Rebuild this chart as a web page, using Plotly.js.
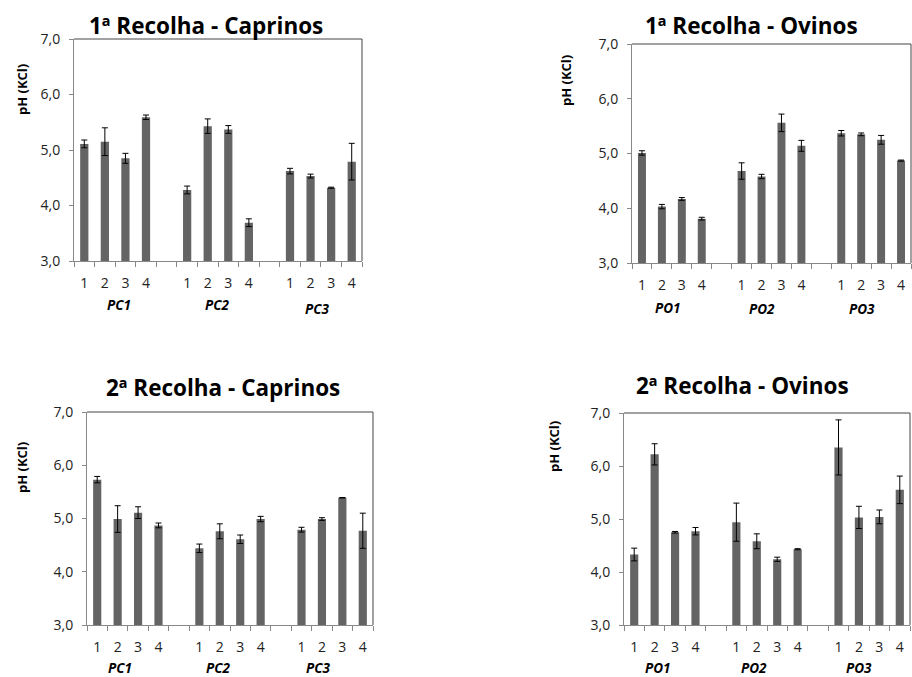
<!DOCTYPE html>
<html>
<head>
<meta charset="utf-8">
<script src="https://cdn.plot.ly/plotly-3.0.1.min.js"></script>
<style>html,body{margin:0;padding:0;background:#fff;}#chart{width:912px;height:677px;}</style>
</head>
<body>
<div id="chart"></div>
<script>
// ---- data ----
const samples = ['1', '2', '3', '4'];
const groupsCaprinos = ['PC1', 'PC2', 'PC3'];
const groupsOvinos = ['PO1', 'PO2', 'PO3'];

const titles = ['1ª Recolha - Caprinos', '1ª Recolha - Ovinos', '2ª Recolha - Caprinos', '2ª Recolha - Ovinos'];
const yTitle = 'pH (KCl)';
const yTicks = [3, 4, 5, 6, 7];

const r1Caprinos    = [5.11, 5.15, 4.85, 5.59, 4.28, 5.43, 5.37, 3.69, 4.62, 4.53, 4.32, 4.79];
const r1CaprinosErr = [0.07, 0.25, 0.09, 0.04, 0.07, 0.13, 0.07, 0.07, 0.05, 0.035, 0.01, 0.33];

const r1Ovinos    = [5.01, 4.03, 4.17, 3.81, 4.68, 4.58, 5.56, 5.14, 5.37, 5.35, 5.25, 4.87];
const r1OvinosErr = [0.04, 0.04, 0.025, 0.025, 0.15, 0.04, 0.16, 0.10, 0.05, 0.025, 0.08, 0.01];

const r2Caprinos    = [5.73, 4.99, 5.11, 4.87, 4.44, 4.76, 4.61, 4.99, 4.79, 4.99, 5.39, 4.77];
const r2CaprinosErr = [0.06, 0.25, 0.11, 0.045, 0.08, 0.14, 0.08, 0.05, 0.045, 0.025, 0.005, 0.33];

const r2Ovinos    = [4.33, 6.22, 4.75, 4.77, 4.94, 4.58, 4.24, 4.43, 6.35, 5.03, 5.04, 5.55];
const r2OvinosErr = [0.12, 0.20, 0.015, 0.07, 0.36, 0.14, 0.04, 0.01, 0.52, 0.21, 0.13, 0.26];

// ---- layout geometry (pixels) ----
const W = 912, H = 677;
const panels = [
  {vals: r1Caprinos, errs: r1CaprinosErr, groups: groupsCaprinos, box: [74, 362, 39, 261],  title: [206, 25], ytitle: [22, 90],  groupY: [305, 305, 309], groupX: [1.7, 6.45, 11.3]},
  {vals: r1Ovinos,   errs: r1OvinosErr,   groups: groupsOvinos,   box: [632, 911, 44, 263], title: [751, 25], ytitle: [566, 81], groupY: [308, 309, 309], groupX: [1.3, 6.0, 11.05]},
  {vals: r2Caprinos, errs: r2CaprinosErr, groups: groupsCaprinos, box: [87, 373, 412, 625], title: [223, 387], ytitle: [22, 468], groupY: [668, 668, 668], groupX: [1.1, 5.9, 10.8]},
  {vals: r2Ovinos,   errs: r2OvinosErr,   groups: groupsOvinos,   box: [624, 910, 413, 625], title: [742, 385], ytitle: [554, 447], groupY: [668, 668, 668], groupX: [1.15, 5.85, 11.0]}
];

const FONT = 'Open Sans, Liberation Sans, sans-serif';
const tickFont = {family: FONT, size: 14, color: '#222'};
const data = [];
const layout = {
  width: W, height: H,
  margin: {l: 0, r: 0, t: 0, b: 0},
  paper_bgcolor: '#fff', plot_bgcolor: '#fff',
  showlegend: false,
  separators: ',.',
  annotations: [], shapes: []
};

panels.forEach((p, i) => {
  const n = i + 1;
  const xa = 'xaxis' + (n === 1 ? '' : n), ya = 'yaxis' + (n === 1 ? '' : n);
  const xr = 'x' + (n === 1 ? '' : n), yr = 'y' + (n === 1 ? '' : n);
  const xs = [], labels = [];
  p.vals.forEach((v, k) => {
    const g = Math.floor(k / samples.length), s = k % samples.length;
    xs.push(g * (samples.length + 1) + s);
    labels.push(samples[s]);
  });
  data.push({
    type: 'bar', x: xs, y: p.vals, xaxis: xr, yaxis: yr,
    width: 0.4,
    marker: {color: '#646464', line: {width: 0}},
    error_y: {type: 'data', array: p.errs, visible: true, color: '#000', thickness: 1, width: 3},
    hoverinfo: 'skip'
  });
  const [x0, x1, yt, yb] = p.box;
  layout[xa] = {
    domain: [x0 / W, x1 / W], anchor: yr,
    range: [-0.5, 13.5],
    tickmode: 'array', tickvals: xs, ticktext: labels,
    ticks: '', showgrid: false, zeroline: false,
    tickfont: tickFont, ticklabelstandoff: 9,
    showline: true, linecolor: '#888', linewidth: 1,
    minor: {tick0: -0.5, dtick: 1, ticks: 'outside', ticklen: 5, tickcolor: '#888', tickwidth: 1, showgrid: false},
    fixedrange: true
  };
  layout[ya] = {
    domain: [(H - yb) / H, (H - yt) / H], anchor: xr,
    range: [3, 7], tickvals: yTicks, tickformat: '.1f',
    ticks: 'outside', ticklen: 4, tickcolor: '#888',
    showgrid: false, zeroline: false,
    tickfont: tickFont, ticklabelstandoff: 6,
    showline: true, linecolor: '#888', linewidth: 1,
    fixedrange: true
  };
  // top and right border of plot area
  layout.shapes.push({type: 'line', xref: xr + ' domain', yref: yr + ' domain', x0: 0, x1: 1, y0: 1, y1: 1, line: {color: '#444', width: 1}});
  layout.shapes.push({type: 'line', xref: xr + ' domain', yref: yr + ' domain', x0: 1, x1: 1, y0: 0, y1: 1, line: {color: '#444', width: 1}});
  // chart title
  layout.annotations.push({
    text: '<b>' + titles[i] + '</b>', xref: 'paper', yref: 'paper',
    x: p.title[0] / W, y: (H - p.title[1]) / H, xanchor: 'center', yanchor: 'middle',
    showarrow: false, font: {family: FONT, size: 22.5, color: '#000'}
  });
  // y title
  layout.annotations.push({
    text: '<b>' + yTitle + '</b>', xref: 'paper', yref: 'paper', textangle: -90,
    x: p.ytitle[0] / W, y: (H - p.ytitle[1]) / H, xanchor: 'center', yanchor: 'middle',
    showarrow: false, font: {family: FONT, size: 13, color: '#000'}
  });
  // group labels
  p.groups.forEach((g, k) => {
    layout.annotations.push({
      text: '<b><i>' + g + '</i></b>', xref: xr, yref: 'paper',
      x: p.groupX[k], y: (H - p.groupY[k]) / H, xanchor: 'center', yanchor: 'middle',
      showarrow: false, font: {family: FONT, size: 13.5, color: '#000'}
    });
  });
});

Plotly.newPlot('chart', data, layout, {displayModeBar: false, staticPlot: true});
</script>
</body>
</html>
